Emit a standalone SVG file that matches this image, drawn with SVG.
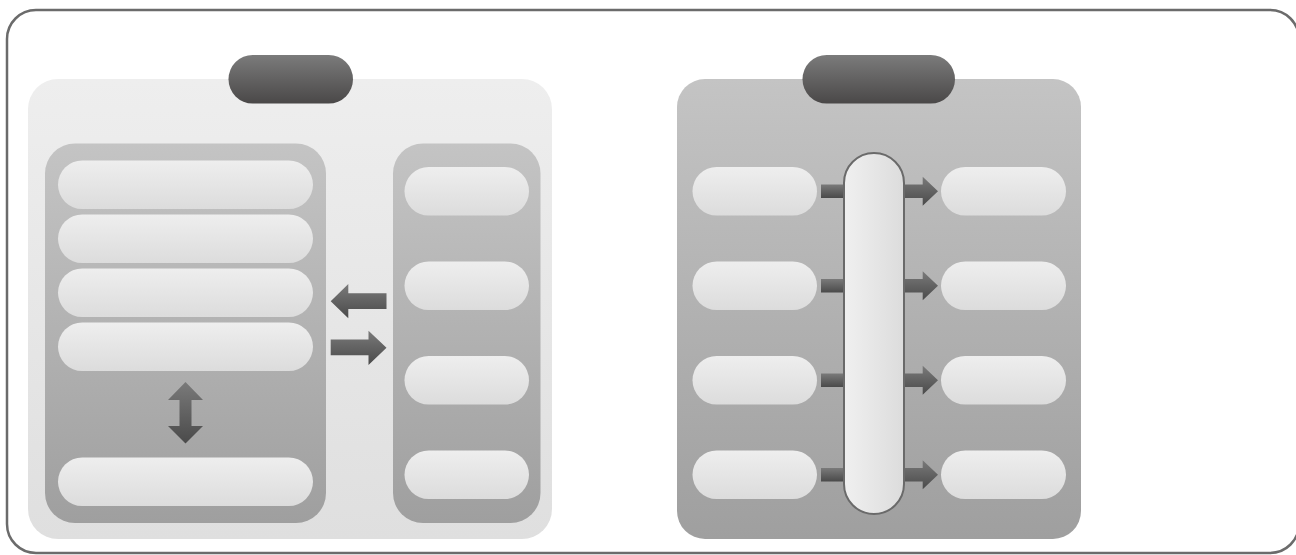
<svg xmlns="http://www.w3.org/2000/svg" width="1296" height="555" viewBox="0 0 1296 555">
  <defs>
    <linearGradient id="gPanelL" x1="0" y1="0" x2="0" y2="1">
      <stop offset="0" stop-color="#eeeeee"/>
      <stop offset="1" stop-color="#dfdfdf"/>
    </linearGradient>
    <linearGradient id="gCol" x1="0" y1="0" x2="0" y2="1">
      <stop offset="0" stop-color="#c4c4c4"/>
      <stop offset="1" stop-color="#9f9f9f"/>
    </linearGradient>
    <linearGradient id="gItem" x1="0" y1="0" x2="0" y2="1">
      <stop offset="0" stop-color="#eeeeee"/>
      <stop offset="1" stop-color="#dcdcdc"/>
    </linearGradient>
    <linearGradient id="gDark" x1="0" y1="0" x2="0" y2="1">
      <stop offset="0" stop-color="#7b7b7b"/>
      <stop offset="1" stop-color="#4a4848"/>
    </linearGradient>
    <linearGradient id="gArrowBox" x1="0" y1="0" x2="0" y2="1" gradientUnits="objectBoundingBox">
      <stop offset="0" stop-color="#7a7a7a"/>
      <stop offset="1" stop-color="#4a4a4a"/>
    </linearGradient>
    <linearGradient id="gBus" x1="0" y1="0" x2="1" y2="0">
      <stop offset="0" stop-color="#f0f0f0"/>
      <stop offset="1" stop-color="#dcdcdc"/>
    </linearGradient>
  </defs>
  <style>
    .frame{fill:#ffffff;stroke:#6b6b6b;stroke-width:2.5}
    .panelL{fill:url(#gPanelL)}
    .col{fill:url(#gCol)}
    .item{fill:url(#gItem)}
    .tab{fill:url(#gDark)}
    .arrow{fill:url(#gArrowBox)}
    .bus{fill:url(#gBus);stroke:#6a6a6a;stroke-width:2}
  </style>

  <rect class="frame" x="7" y="10" width="1292" height="543" rx="29" ry="29"/>

  <!-- Left panel -->
  <g id="panel-left">
    <rect class="panelL" x="28" y="79" width="524" height="460" rx="30"/>
    <rect class="tab" x="228.5" y="55" width="124.5" height="48.5" rx="24.25"/>
  </g>
  <g id="column-left">
    <rect class="col" x="45" y="143.5" width="281" height="379.5" rx="30"/>
  </g>
  <g id="item-l1"><rect class="item" x="58" y="160.5" width="255" height="48.5" rx="24.25"/></g>
  <g id="item-l2"><rect class="item" x="58" y="214.5" width="255" height="48.5" rx="24.25"/></g>
  <g id="item-l3"><rect class="item" x="58" y="268.5" width="255" height="48.5" rx="24.25"/></g>
  <g id="item-l4"><rect class="item" x="58" y="322.5" width="255" height="48.5" rx="24.25"/></g>
  <g id="item-l5"><rect class="item" x="58" y="457.5" width="255" height="48.5" rx="24.25"/></g>

  <g id="column-right">
    <rect class="col" x="393" y="143.5" width="147.5" height="379.5" rx="30"/>
  </g>
  <g id="item-r1"><rect class="item" x="404.5" y="167" width="124.5" height="48.5" rx="24.25"/></g>
  <g id="item-r2"><rect class="item" x="404.5" y="261.5" width="124.5" height="48.5" rx="24.25"/></g>
  <g id="item-r3"><rect class="item" x="404.5" y="356" width="124.5" height="48.5" rx="24.25"/></g>
  <g id="item-r4"><rect class="item" x="404.5" y="450.5" width="124.5" height="48.5" rx="24.25"/></g>

  <!-- Right panel -->
  <g id="panel-right">
    <rect class="col" x="677" y="79" width="404" height="460" rx="28"/>
    <rect class="tab" x="802.5" y="55" width="152.5" height="48.5" rx="24.25"/>
  </g>
  <g id="src-1"><rect class="item" x="692.5" y="167" width="124.5" height="48.5" rx="24.25"/></g>
  <g id="src-2"><rect class="item" x="692.5" y="261.5" width="124.5" height="48.5" rx="24.25"/></g>
  <g id="src-3"><rect class="item" x="692.5" y="356" width="124.5" height="48.5" rx="24.25"/></g>
  <g id="src-4"><rect class="item" x="692.5" y="450.5" width="124.5" height="48.5" rx="24.25"/></g>
  <g id="dst-1"><rect class="item" x="941" y="167" width="125" height="48.5" rx="24.25"/></g>
  <g id="dst-2"><rect class="item" x="941" y="261.5" width="125" height="48.5" rx="24.25"/></g>
  <g id="dst-3"><rect class="item" x="941" y="356" width="125" height="48.5" rx="24.25"/></g>
  <g id="dst-4"><rect class="item" x="941" y="450.5" width="125" height="48.5" rx="24.25"/></g>

  <!-- Connectors -->
  <g id="connectors">
    <path class="arrow" d="M185.5 382 L203 400 L191.5 400 L191.5 426 L203 426 L185.5 443.5 L168 426 L179.5 426 L179.5 400 L168 400 Z"/>
    <path class="arrow" d="M330.7 301.2 L348.3 284 L348.3 293.3 L386.5 293.3 L386.5 309 L348.3 309 L348.3 318.3 Z"/>
    <path class="arrow" d="M386.5 347.8 L368.5 330.7 L368.5 339.5 L330.7 339.5 L330.7 355.3 L368.5 355.3 L368.5 365 Z"/>
    <rect class="arrow" x="821" y="184.5" width="26" height="13.5"/>
    <rect class="arrow" x="821" y="279" width="26" height="13.5"/>
    <rect class="arrow" x="821" y="373.5" width="26" height="13.5"/>
    <rect class="arrow" x="821" y="468" width="26" height="13.5"/>
    <path class="arrow" d="M900 184.5 L922.7 184.5 L922.7 176.7 L938 191.2 L922.7 205.7 L922.7 198 L900 198 Z"/>
    <path class="arrow" d="M900 279 L922.7 279 L922.7 271.2 L938 285.7 L922.7 300.2 L922.7 292.5 L900 292.5 Z"/>
    <path class="arrow" d="M900 373.5 L922.7 373.5 L922.7 365.7 L938 380.2 L922.7 394.7 L922.7 387 L900 387 Z"/>
    <path class="arrow" d="M900 468 L922.7 468 L922.7 460.2 L938 474.7 L922.7 489.2 L922.7 481.5 L900 481.5 Z"/>
  </g>

  <g id="bus">
    <rect class="bus" x="844" y="153" width="60" height="361" rx="30"/>
  </g>
</svg>
